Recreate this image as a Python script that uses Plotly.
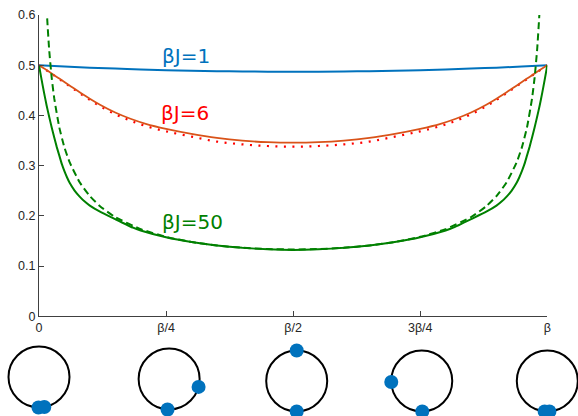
import math
import plotly.graph_objects as go

# ---------------- data ----------------
tau_b1 = [0, 0.05, 0.1, 0.15, 0.2, 0.25, 0.3, 0.35, 0.4, 0.45, 0.5,
          0.55, 0.6, 0.65, 0.7, 0.75, 0.8, 0.85, 0.9, 0.95, 1.0]
g_b1 = [0.5, 0.4975, 0.4953, 0.4934, 0.4917, 0.4903, 0.4892, 0.4883, 0.4877, 0.4874, 0.4873,
        0.4874, 0.4877, 0.4883, 0.4892, 0.4903, 0.4917, 0.4934, 0.4953, 0.4975, 0.5]

tau_b6 = [0, 0.02, 0.04, 0.06, 0.08, 0.1, 0.12, 0.15, 0.18, 0.21, 0.25, 0.3, 0.35, 0.4, 0.45, 0.5,
          0.55, 0.6, 0.65, 0.7, 0.75, 0.79, 0.82, 0.85, 0.88, 0.9, 0.92, 0.94, 0.96, 0.98, 1.0]
g_b6 = [0.5, 0.487, 0.4735, 0.460, 0.4465, 0.4335, 0.4215, 0.406, 0.3935, 0.3835, 0.3735, 0.3635,
        0.3555, 0.3500, 0.3468, 0.3458, 0.3468, 0.3500, 0.3555, 0.3635, 0.3735, 0.3835, 0.3935,
        0.406, 0.4215, 0.4335, 0.4465, 0.460, 0.4735, 0.487, 0.5]
g_b6_approx = [0.5, 0.4865, 0.4725, 0.4585, 0.4445, 0.431, 0.4185, 0.4025, 0.3895, 0.379, 0.3685,
               0.358, 0.348, 0.3425, 0.3392, 0.338, 0.3392, 0.3425, 0.348, 0.358, 0.3685, 0.379,
               0.3895, 0.4025, 0.4185, 0.431, 0.4445, 0.4585, 0.4725, 0.4865, 0.5]

tau_b50 = [0, 0.005, 0.01, 0.015, 0.02, 0.025, 0.03, 0.035, 0.04, 0.045, 0.05, 0.055, 0.06,
           0.07, 0.08, 0.09, 0.1, 0.12, 0.15, 0.185, 0.2, 0.25, 0.3, 0.35, 0.4, 0.45, 0.5,
           0.55, 0.6, 0.65, 0.7, 0.75, 0.8, 0.815, 0.85, 0.88, 0.9, 0.91, 0.92, 0.93, 0.94,
           0.945, 0.95, 0.955, 0.96, 0.965, 0.97, 0.975, 0.98, 0.985, 0.99, 0.995, 1.0]
g_b50 = [0.5, 0.472, 0.445, 0.420, 0.3975, 0.376, 0.356, 0.337, 0.320, 0.303, 0.289, 0.277,
         0.2665, 0.2505, 0.2385, 0.2285, 0.2205, 0.2084, 0.1935, 0.1765, 0.171, 0.1575, 0.148,
         0.1412, 0.1364, 0.1334, 0.1322,
         0.1334, 0.1364, 0.1412, 0.148, 0.1575, 0.171, 0.1765, 0.1935, 0.2084, 0.2205, 0.2285,
         0.2385, 0.2505, 0.2665, 0.277, 0.289, 0.303, 0.320, 0.337, 0.356, 0.376, 0.3975,
         0.420, 0.445, 0.472, 0.5]

tau_conf = [0.013, 0.0157, 0.02, 0.025, 0.03, 0.04, 0.05, 0.06, 0.08, 0.1, 0.12, 0.15, 0.2, 0.25,
            0.3, 0.35, 0.4, 0.45, 0.5, 0.55, 0.6, 0.65, 0.7, 0.75, 0.8, 0.85, 0.88, 0.9, 0.92,
            0.94, 0.95, 0.96, 0.97, 0.975, 0.98, 0.9843, 0.987]
g_conf = [0.659, 0.6, 0.531, 0.475, 0.434, 0.376, 0.3366, 0.3075, 0.2669, 0.2395, 0.2194, 0.1976,
          0.1736, 0.1583, 0.148, 0.141, 0.1365, 0.134, 0.1331, 0.134, 0.1365, 0.141, 0.148,
          0.1583, 0.1736, 0.1976, 0.2194, 0.2395, 0.2669, 0.3075, 0.3366, 0.376, 0.434, 0.475,
          0.531, 0.6, 0.659]

x_tick_vals = [0, 0.25, 0.5, 0.75, 1.0]
x_tick_text = ["0", "β/4", "β/2", "3β/4", "β"]
y_tick_vals = [0, 0.1, 0.2, 0.3, 0.4, 0.5, 0.6]
y_tick_text = ["0", "0.1", "0.2", "0.3", "0.4", "0.5", "0.6"]

labels = ["βJ=1", "βJ=6", "βJ=50"]

# cartoon circles below the axis: circle position (in units of β) and dot angles (deg)
circle_tau = [0, 0.256, 0.507, 0.753, 1.0]
dot_angles = [[-91, -80], [-93, -15], [90, -90], [182, -89], [-95, -86]]

# ---------------- layout constants ----------------
W, H = 578, 416
PX_L, PX_R = 39, 547.3
PX_T, PX_B = 15.1, 316.3
CIRC_CY = [39, 37, 35, 35, 35]   # circle centres, pixels above bottom edge
CIRC_R_PX = 30.5

BLUE = "#0072BD"
ORANGE = "#D95319"
RED = "#FF0000"
GREEN = "#008000"
AX = "#404040"

xscale = PX_R - PX_L
fig = go.Figure()

fig.add_trace(go.Scatter(x=tau_b1, y=g_b1, mode="lines", line=dict(color=BLUE, width=2, shape="spline")))
fig.add_trace(go.Scatter(x=tau_b6, y=g_b6_approx, mode="lines",
                         line=dict(color=RED, width=2.2, dash="2px,6.5px", shape="spline")))
fig.add_trace(go.Scatter(x=tau_b6, y=g_b6, mode="lines", line=dict(color=ORANGE, width=1.8, shape="spline")))
fig.add_trace(go.Scatter(x=tau_conf, y=g_conf, mode="lines",
                         line=dict(color=GREEN, width=2, dash="7px,4px", shape="spline", smoothing=0.5)))
fig.add_trace(go.Scatter(x=tau_b50, y=g_b50, mode="lines",
                         line=dict(color=GREEN, width=2, shape="spline", smoothing=0.4)))

# labels
lab_pos = [(0.239, 0.519), (0.237, 0.405), (0.239, 0.188)]
lab_col = [BLUE, RED, GREEN]
for t, (lx, ly), c in zip(labels, lab_pos, lab_col):
    fig.add_annotation(x=lx, y=ly, xref="x", yref="y", text=t, showarrow=False,
                       xanchor="left", yanchor="middle",
                       font=dict(family="DejaVu Sans", size=20, color=c))

# circles
rx = CIRC_R_PX / xscale
for c, cy, angs in zip(circle_tau, CIRC_CY, dot_angles):
    fig.add_shape(type="circle", xref="x2", yref="y2", x0=c - rx, x1=c + rx,
                  y0=cy - CIRC_R_PX, y1=cy + CIRC_R_PX, line=dict(color="black", width=2),
                  layer="below")
    fig.add_trace(go.Scatter(
        x=[c + rx * math.cos(math.radians(a)) for a in angs],
        y=[cy + CIRC_R_PX * math.sin(math.radians(a)) for a in angs],
        xaxis="x2", yaxis="y2", mode="markers", cliponaxis=False,
        marker=dict(color=BLUE, size=14, line=dict(width=0))))

tickfont = dict(family="Liberation Sans", size=12.5, color="#262626")
fig.update_layout(
    width=W, height=H, margin=dict(l=0, r=0, t=0, b=0, autoexpand=False),
    plot_bgcolor="white", paper_bgcolor="white", showlegend=False,
    xaxis=dict(domain=[PX_L / W, PX_R / W], range=[0, 1], tickvals=x_tick_vals, ticktext=x_tick_text,
               ticks="inside", ticklen=5, tickcolor=AX, showline=True, linecolor=AX, linewidth=1,
               showgrid=False, zeroline=False, tickfont=tickfont, anchor="y", automargin=False),
    yaxis=dict(domain=[(H - PX_B) / H, (H - PX_T) / H], range=[0, 0.6], tickvals=y_tick_vals,
               ticktext=y_tick_text, ticks="inside", ticklen=5, tickcolor=AX, showline=True,
               linecolor=AX, linewidth=1, showgrid=False, zeroline=False, tickfont=tickfont,
               anchor="x", automargin=False),
    xaxis2=dict(domain=[0, 1], range=[-PX_L / xscale, (W - PX_L) / xscale], visible=False,
                anchor="y2", automargin=False),
    yaxis2=dict(domain=[0, 0.2], range=[0, 0.2 * H], visible=False, anchor="x2", automargin=False),
)

fig.write_html("out.html", config={"displayModeBar": False},
               post_script="document.body.style.margin='0px';")
